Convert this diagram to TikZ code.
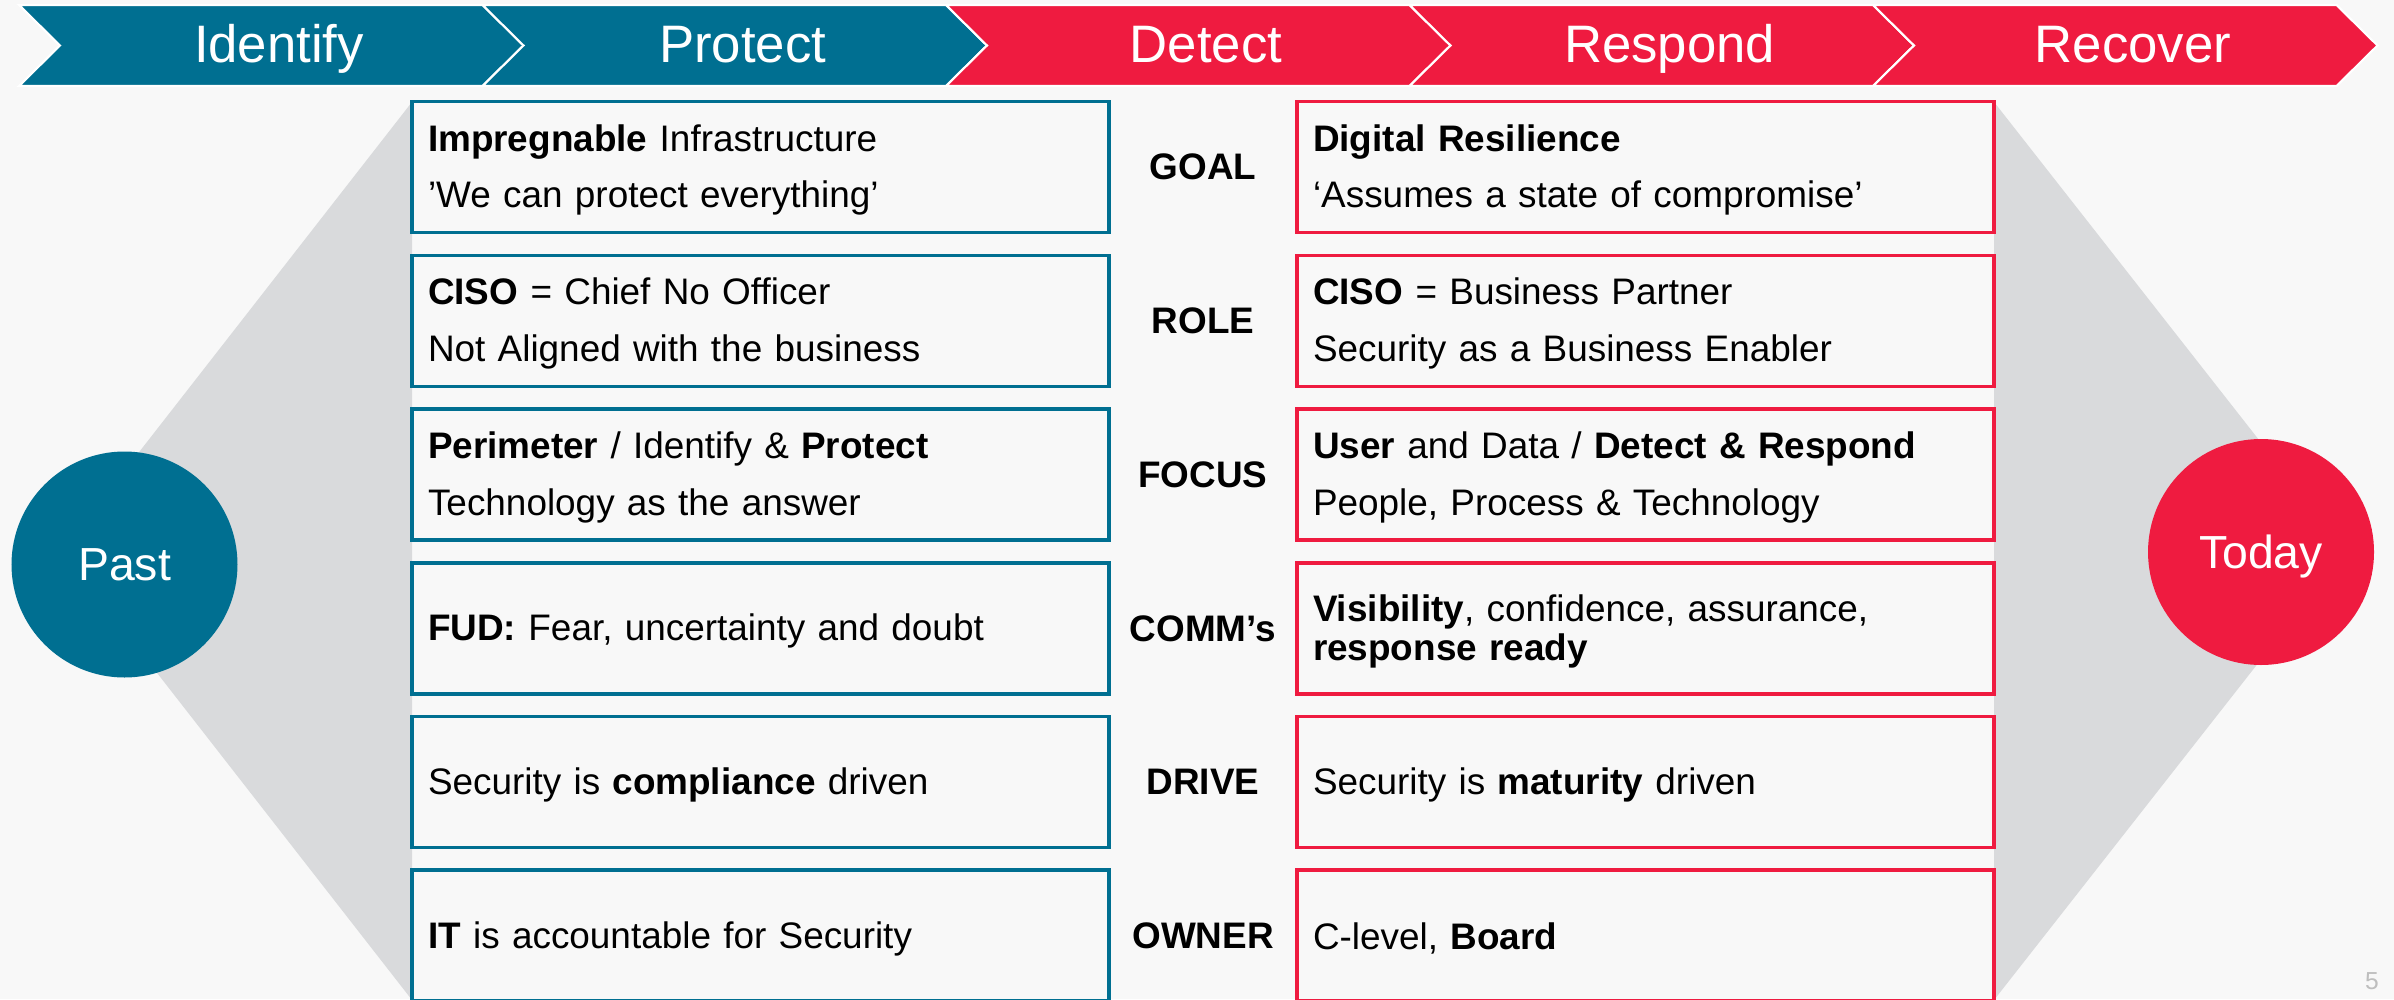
\documentclass[tikz,border=0pt]{standalone}
\usepackage{fontspec}
\setmainfont{Liberation Sans}
\usetikzlibrary{positioning, calc}
\definecolor{pastblue}{RGB}{0,111,145}
\definecolor{todayred}{RGB}{239,27,64}
\definecolor{wedgegray}{RGB}{217,218,220}
\definecolor{slidebg}{RGB}{248,248,248}
\definecolor{pagegray}{RGB}{190,190,190}

\begin{document}
\begin{tikzpicture}[
  phase/.style={anchor=base, text=white, font=\fontsize{15}{18}\selectfont},
  era/.style={circle, minimum size=2.26cm, inner sep=0pt, text depth=0pt, text=white, font=\fontsize{13.2}{16}\selectfont},
  rowbox/.style={draw, line width=1pt, fill=slidebg, minimum width=6.97cm, minimum height=1.31cm, text width=6.65cm, text height=9.2pt, align=left, inner xsep=0.16cm, inner ysep=0pt, outer sep=0pt, font=\fontsize{10.5}{16.1}\selectfont},
  pastbox/.style={rowbox, draw=pastblue},
  nowbox/.style={rowbox, draw=todayred},
  rowlabel/.style={font=\fontsize{10.5}{12}\selectfont\bfseries}
]
\useasboundingbox (0,0) rectangle (23.94,-9.99);
\clip (0,0) rectangle (23.94,-9.99);
\fill[slidebg] (0,0) rectangle (23.94,-9.99);

% Grey wedges behind the two columns
\fill[wedgegray] (4.12,-1.02) -- (0.62,-5.51) -- (4.12,-10.0) -- cycle;
\fill[wedgegray] (19.94,-1.02) -- (23.46,-5.51) -- (19.94,-10.0) -- cycle;

% Phase banner
\foreach \lbl/\col [count=\i from 0] in {Identify/pastblue, Protect/pastblue, Detect/todayred, Respond/todayred, Recover/todayred} {
  \path[fill=\col, draw=white, line width=0.6pt] (0.19+\i*4.635,-0.05) -- ++(4.635,0) -- ++(0.41,-0.405) -- ++(-0.41,-0.405) -- ++(-4.635,0) -- ++(0.41,0.405) -- cycle;
  \node[phase] (ph\i) at (2.79+\i*4.635,-0.627) {\lbl};
}

% Past / Today
\node[era, fill=pastblue] (past) at (1.245,-5.645) {Past};
\node[era, fill=todayred] (today) at (22.61,-5.52) {Today};

% Past column
\node[pastbox] (lgoal) at (7.605,-1.672) {\textbf{Impregnable} Infrastructure\\’We can protect everything’};
\node[pastbox, below=0.227cm of lgoal] (lrole) {\textbf{CISO} = Chief No Officer\\Not Aligned with the business};
\node[pastbox, below=0.227cm of lrole] (lfocus) {\textbf{Perimeter} / Identify \& \textbf{Protect}\\Technology as the answer};
\node[pastbox, below=0.227cm of lfocus] (lcomms) {\textbf{FUD:} Fear, uncertainty and doubt};
\node[pastbox, below=0.227cm of lcomms] (ldrive) {Security is \textbf{compliance} driven};
\node[pastbox, below=0.227cm of ldrive] (lowner) {\textbf{IT} is accountable for Security};

% Today column
\node[nowbox, right=1.88cm of lgoal] (rgoal) {\textbf{Digital Resilience}\\‘Assumes a state of compromise’};
\node[nowbox, right=1.88cm of lrole] (rrole) {\textbf{CISO} = Business Partner\\Security as a Business Enabler};
\node[nowbox, right=1.88cm of lfocus] (rfocus) {\textbf{User} and Data / \textbf{Detect \& Respond}\\People, Process \& Technology};
\node[nowbox, right=1.88cm of lcomms, font=\fontsize{10.5}{11.1}\selectfont] (rcomms) {\textbf{Visibility}, confidence, assurance,\\\textbf{response ready}};
\node[nowbox, right=1.88cm of ldrive] (rdrive) {Security is \textbf{maturity} driven};
\node[nowbox, right=1.88cm of lowner] (rowner) {C-level, \textbf{Board}};

% Row labels
\foreach \row/\lbl in {goal/GOAL, role/ROLE, focus/FOCUS, comms/COMM’s, drive/DRIVE, owner/OWNER}
  \node[rowlabel] (\row) at ($(l\row.east)!0.5!(r\row.west)$) {\lbl};

\node[anchor=base, text=pagegray, font=\fontsize{7}{8}\selectfont] (pagenum) at (23.72,-9.89) {5};

\end{tikzpicture}
\end{document}
